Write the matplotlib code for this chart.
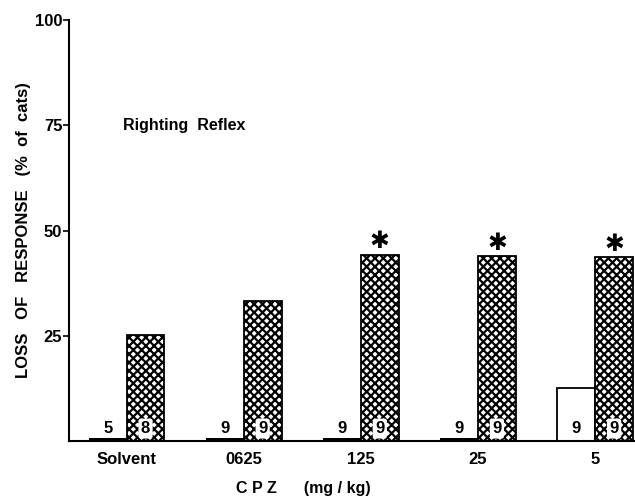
import matplotlib
matplotlib.use("Agg")
import matplotlib.pyplot as plt
import numpy as np

# doses of CPZ (mg/kg)
doses = ["Solvent", "0625", "125", "25", "5"]
# % of cats losing the righting reflex, two groups per dose
open_vals = [0.7, 0.7, 0.7, 0.7, 12.5]
hatched_vals = [25.3, 33.2, 44.3, 44.0, 43.6]
open_n = [5, 9, 9, 9, 9]
hatched_n = [8, 9, 9, 9, 9]
significant = [False, False, True, True, True]
yticks = [25, 50, 75, 100]

plt.rcParams['font.family'] = ['Liberation Sans', 'DejaVu Sans']
plt.rcParams['font.weight'] = 'bold'
plt.rcParams['hatch.linewidth'] = 1.6

fig = plt.figure(figsize=(6.35, 4.99), dpi=100)
ax = fig.add_axes([0.109, 0.116, 0.891, 0.844])

x = np.arange(len(doses))
w = 0.323

for i in range(len(doses)):
    if open_vals[i] < 2:
        ax.bar(x[i] - w, open_vals[i], w, align='edge', color='black', linewidth=0)
    else:
        ax.bar(x[i] - w, open_vals[i], w, align='edge', facecolor='white',
               edgecolor='black', linewidth=1.3)
    ax.bar(x[i], hatched_vals[i], w, align='edge', facecolor='white',
           edgecolor='black', hatch='xxxx', linewidth=1.3)

    ax.text(x[i] - w / 2, 1.2, str(open_n[i]), ha='center', va='bottom',
            fontsize=12, fontweight='bold')
    ax.text(x[i] + w / 2, 1.2, str(hatched_n[i]), ha='center', va='bottom',
            fontsize=12, fontweight='bold',
            bbox=dict(boxstyle='round,pad=0.15', fc='white', ec='none'))
    if significant[i]:
        ax.text(x[i] + w / 2, hatched_vals[i] + 0.3, "✱", ha='center',
                va='bottom', fontsize=17, family=['DejaVu Sans'])

ax.text(-0.03, 75, "Righting  Reflex", ha='left', va='center',
        fontsize=11.5, fontweight='bold')

ax.set_xlim(-0.49, 4.34)
ax.set_ylim(0, 100)
ax.set_yticks(yticks)
ax.set_yticklabels([str(t) for t in yticks], fontsize=12, fontweight='bold')
ax.set_xticks(x)
ax.set_xticklabels(doses, fontsize=12, fontweight='bold')
ax.tick_params(axis='x', length=0, pad=8)
ax.tick_params(axis='y', length=4, width=1.2, pad=1)

ax.spines['top'].set_visible(False)
ax.spines['right'].set_visible(False)
ax.spines['left'].set_linewidth(1.5)
ax.spines['bottom'].set_linewidth(1.5)

ax.set_ylabel("LOSS   OF   RESPONSE   (%  of  cats)", fontsize=12,
              fontweight='bold')
ax.yaxis.set_label_coords(-0.068, 0.5)
ax.set_xlabel("C P Z      (mg / kg)", fontsize=11.5, fontweight='bold')
ax.xaxis.set_label_coords((303 - 69) / 566, -0.095)

fig.savefig("out.png", dpi=100)
